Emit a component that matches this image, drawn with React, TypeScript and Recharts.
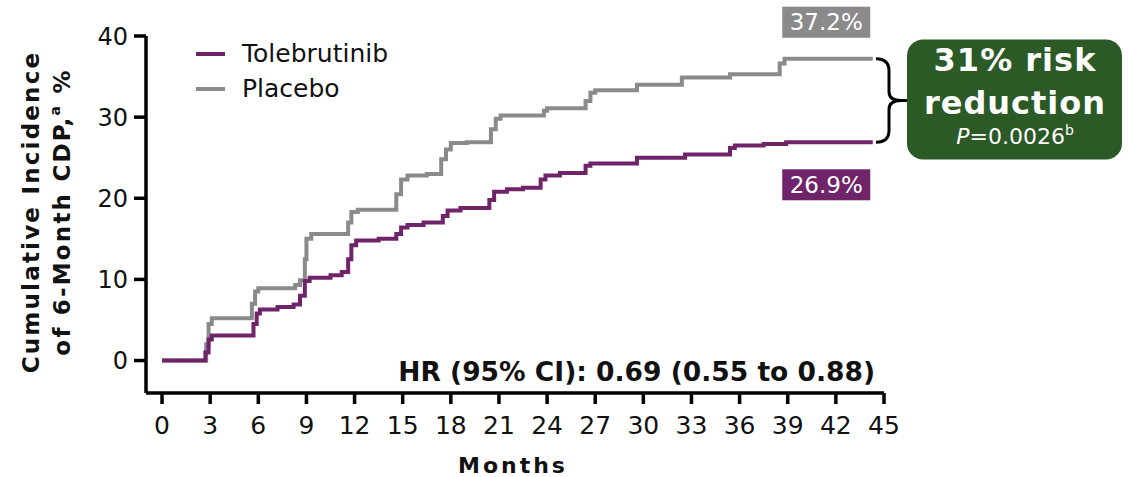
import React from "react";
import { LineChart, Line, XAxis, YAxis, ReferenceDot, ReferenceArea } from "recharts";

const PURPLE = "#6f2469";
const GRAY = "#8a8a8a";
const GREEN = "#2b5a27";

const xTicks = [0, 3, 6, 9, 12, 15, 18, 21, 24, 27, 30, 33, 36, 39, 42, 45];
const yTicks = [0, 10, 20, 30, 40];

// step points (month, cumulative %)
const toleMonths = [0, 2.7, 2.9, 3.1, 5.7, 5.9, 6.1, 7.2, 8.2, 8.6, 8.9, 9.2, 10.5, 11.2, 11.6, 11.8, 12.1, 13.5, 14.6, 14.9, 15.3, 16.3, 17.5, 17.8, 18.6, 20.4, 20.7, 21.5, 22.5, 23.6, 23.9, 24.8, 26.4, 26.7, 29.6, 32.6, 35.4, 35.7, 37.5, 38.9, 44.3];
const toleValues = [0, 1.0, 2.6, 3.1, 4.5, 5.8, 6.3, 6.6, 6.9, 8.0, 9.8, 10.2, 10.5, 10.9, 12.5, 14.2, 14.8, 15.0, 15.6, 16.4, 16.7, 17.0, 17.8, 18.5, 18.8, 19.8, 20.8, 21.1, 21.3, 22.3, 22.8, 23.1, 24.0, 24.3, 25.0, 25.4, 26.2, 26.5, 26.7, 26.9, 26.9];

const placeboMonths = [0, 2.75, 2.9, 3.1, 5.6, 5.8, 6.0, 8.3, 8.6, 8.9, 9.0, 9.3, 11.6, 11.8, 12.2, 14.6, 14.9, 15.3, 16.5, 17.4, 17.7, 18.0, 19.0, 20.5, 20.8, 21.1, 23.8, 24.0, 26.4, 26.7, 27.0, 29.6, 32.4, 35.4, 38.5, 38.8, 44.3];
const placeboValues = [0, 2.0, 4.5, 5.2, 7.0, 8.5, 8.9, 9.3, 9.9, 12.5, 15.0, 15.6, 17.0, 18.3, 18.6, 20.5, 22.3, 22.8, 23.0, 24.8, 26.0, 26.8, 26.9, 28.5, 29.8, 30.2, 30.8, 31.1, 32.0, 33.0, 33.3, 34.0, 34.9, 35.3, 36.6, 37.2, 37.2];

const seriesNames = ["Tolebrutinib", "Placebo"];
const seriesColors = [PURPLE, GRAY];

const toleData = toleMonths.map((m, i) => ({ month: m, value: toleValues[i] }));
const placeboData = placeboMonths.map((m, i) => ({ month: m, value: placeboValues[i] }));

const toleFinal = toleValues[toleValues.length - 1];
const placeboFinal = placeboValues[placeboValues.length - 1];

const FONT = "'DejaVu Sans', Verdana, sans-serif";

function EndLabel(props: any) {
  const { cx, cy, dy, fill, text } = props;
  return (
    <g>
      <rect x={cx - 44} y={cy + dy - 15.5} width={88} height={31} fill={fill} />
      <text x={cx} y={cy + dy + 8} textAnchor="middle" fill="#fff" fontSize={23} fontFamily={FONT}>
        {text}
      </text>
    </g>
  );
}

function Brace(props: any) {
  const { x, y, width, height } = props;
  const r = x + width;
  const t = y;
  const b = y + height;
  const m = (t + b) / 2;
  const bx = r + 5;
  const d = `M ${r - 8} ${t} Q ${bx} ${t} ${bx} ${t + 12} L ${bx} ${m - 9} Q ${bx} ${m} ${r + 17} ${m} Q ${bx} ${m} ${bx} ${m + 9} L ${bx} ${b - 12} Q ${bx} ${b} ${r - 8} ${b}`;
  const boxX = r + 23;
  return (
    <g>
      <path d={d} fill="none" stroke="#000" strokeWidth={3} />
      <line x1={r + 16} y1={m} x2={boxX} y2={m} stroke="#000" strokeWidth={3} />
      <rect x={boxX} y={m - 61} width={215} height={120} rx={16} fill={GREEN} />
      <text x={boxX + 108} y={m - 30} textAnchor="middle" fill="#fff" fontSize={32} fontWeight="bold" fontFamily={FONT} letterSpacing={1}>
        31% risk
      </text>
      <text x={boxX + 108} y={m + 13} textAnchor="middle" fill="#fff" fontSize={32} fontWeight="bold" fontFamily={FONT} letterSpacing={1}>
        reduction
      </text>
      <text x={boxX + 108} y={m + 43} textAnchor="middle" fill="#fff" fontSize={22} fontFamily={FONT}>
        <tspan fontStyle="italic">P</tspan>=0.0026
        <tspan fontSize={14} dy={-9}>b</tspan>
      </text>
    </g>
  );
}

export default function App() {
  const axisStroke = { stroke: "#000", strokeWidth: 3.5 };
  return (
    <div style={{ position: "relative", width: 1128, height: 477, background: "#fff", fontFamily: FONT }}>
      <style>{"body{margin:0}"}</style>
      <LineChart width={1128} height={477} margin={{ top: 36, right: 244, bottom: 0, left: 0 }}>
        <XAxis
          type="number"
          dataKey="month"
          domain={[-1, 45]}
          ticks={xTicks}
          interval={0}
          allowDataOverflow
          height={84}
          axisLine={axisStroke}
          tickLine={axisStroke}
          tickSize={11}
          tickMargin={12}
          tick={{ fill: "#111", fontSize: 25, fontFamily: FONT }}
        />
        <YAxis
          type="number"
          domain={[-4, 40]}
          ticks={yTicks}
          interval={0}
          allowDataOverflow
          width={146}
          axisLine={axisStroke}
          tickLine={axisStroke}
          tickSize={12}
          tickMargin={6}
          tick={{ fill: "#111", fontSize: 24, fontFamily: FONT }}
        />
        <Line data={placeboData} dataKey="value" name={seriesNames[1]} type="stepAfter" stroke={GRAY} strokeWidth={4} dot={false} isAnimationActive={false} />
        <Line data={toleData} dataKey="value" name={seriesNames[0]} type="stepAfter" stroke={PURPLE} strokeWidth={4} dot={false} isAnimationActive={false} />
        <ReferenceArea
          y1={toleFinal}
          y2={placeboFinal}
          ifOverflow="visible"
          shape={(p: any) => <Brace {...p} />}
        />
        <ReferenceDot
          x={41.4}
          y={placeboFinal}
          r={0}
          ifOverflow="visible"
          shape={(p: any) => <EndLabel {...p} dy={-36.5} fill={GRAY} text={`${placeboFinal.toFixed(1)}%`} />}
        />
        <ReferenceDot
          x={41.4}
          y={toleFinal}
          r={0}
          ifOverflow="visible"
          shape={(p: any) => <EndLabel {...p} dy={42.5} fill={PURPLE} text={`${toleFinal.toFixed(1)}%`} />}
        />
      </LineChart>
      <div style={{ position: "absolute", left: 195, top: 36, fontSize: 25, color: "#111" }}>
        {seriesNames.map((n, i) => (
          <div key={n} style={{ display: "flex", alignItems: "center", height: 35 }}>
            <svg width={47} height={10}>
              <line x1={1} y1={5} x2={30} y2={5} stroke={seriesColors[i]} strokeWidth={4} />
            </svg>
            <span>{n}</span>
          </div>
        ))}
      </div>
      <svg width={1128} height={477} style={{ position: "absolute", left: 0, top: 0, pointerEvents: "none" }}>
        <text transform="translate(39,212) rotate(-90)" textAnchor="middle" fontSize={23} fontWeight="bold" letterSpacing={2.2} fill="#111" fontFamily={FONT}>
          Cumulative Incidence
        </text>
        <text transform="translate(70,212) rotate(-90)" textAnchor="middle" fontSize={23} fontWeight="bold" letterSpacing={2.2} fill="#111" fontFamily={FONT}>
          of 6-Month CDP,<tspan fontSize={14} dy={-10}>a</tspan>
          <tspan dy={10}> %</tspan>
        </text>
        <text x={875} y={381} textAnchor="end" fontSize={26.5} fontWeight="bold" fill="#111" fontFamily={FONT}>
          HR (95% CI): 0.69 (0.55 to 0.88)
        </text>
        <text x={513} y={473} textAnchor="middle" fontSize={22} fontWeight="bold" letterSpacing={3} fill="#111" fontFamily={FONT}>
          Months
        </text>
      </svg>
    </div>
  );
}
